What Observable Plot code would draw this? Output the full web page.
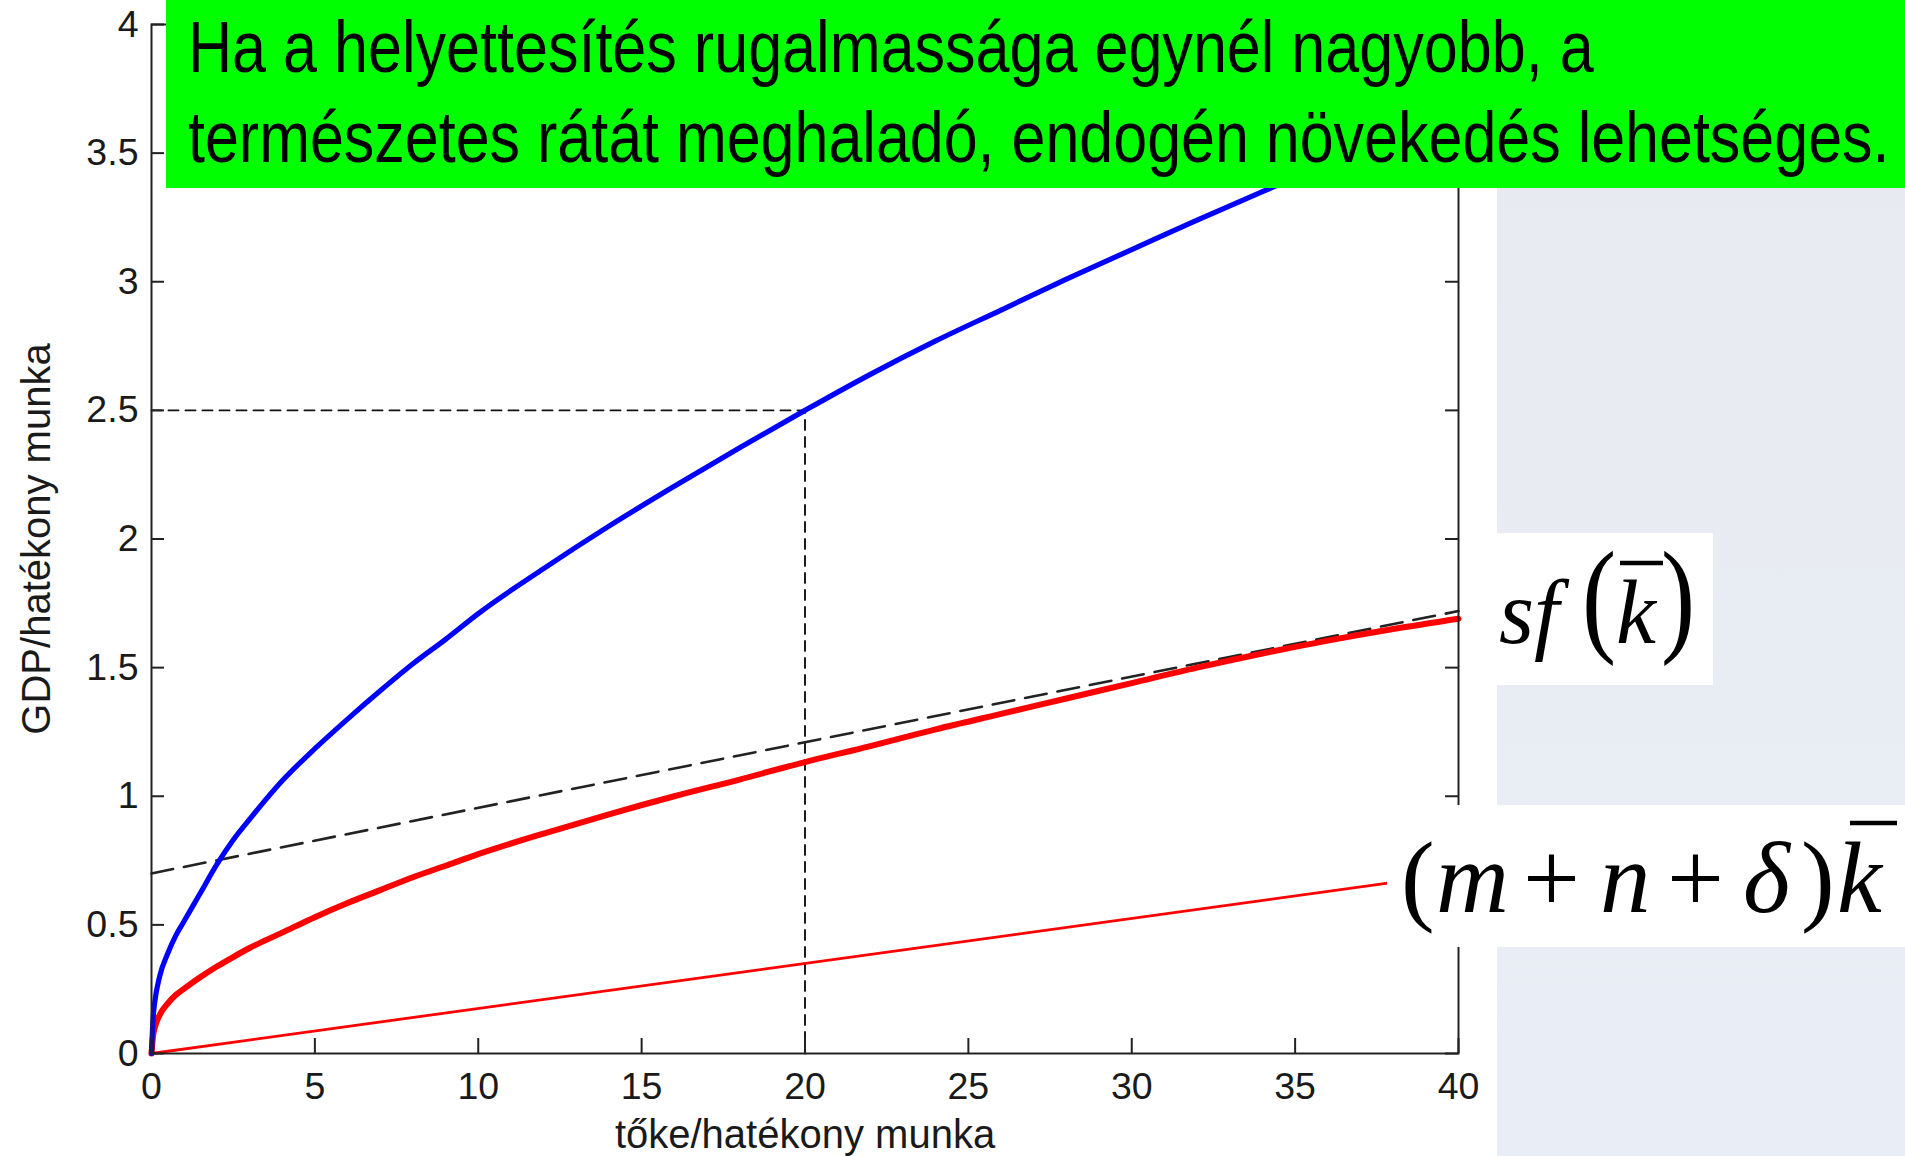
<!DOCTYPE html>
<html>
<head>
<meta charset="utf-8">
<script src="https://cdn.jsdelivr.net/npm/d3@7"></script>
<script src="https://cdn.jsdelivr.net/npm/@observablehq/plot@0.6"></script>
<style>
  html, body { margin: 0; padding: 0; background: #ffffff; }
  #wrap { position: relative; width: 1905px; height: 1156px; overflow: hidden; }
  #chart { position: absolute; left: 0; top: 0; }
  #overlay { position: absolute; left: 0; top: 0; pointer-events: none; }
</style>
</head>
<body>
<div id="wrap">
  <div id="chart"></div>
  <svg id="overlay" width="1905" height="1156" xmlns="http://www.w3.org/2000/svg">
    <defs>
      <linearGradient id="bg" x1="0" y1="0" x2="0" y2="1">
        <stop offset="0" stop-color="#e8eaf1"></stop>
        <stop offset="1" stop-color="#e9eef6"></stop>
      </linearGradient>
    </defs>
    <!-- slide background panel -->
    <rect x="1497" y="188" width="408" height="968" fill="url(#bg)"></rect>
    <!-- green headline box -->
    <rect x="166" y="0" width="1739" height="188" fill="#00ff00"></rect>
    <text id="head1" data-w="1406" transform="translate(188,71.7)" font-family="Liberation Sans, Arial, sans-serif" font-size="72" fill="#000">Ha a helyettesítés rugalmassága egynél nagyobb, a</text>
    <text id="head2" data-w="1702" transform="translate(188,161.7)" font-family="Liberation Sans, Arial, sans-serif" font-size="72" fill="#000">természetes rátát meghaladó, endogén növekedés lehetséges.</text>
    <!-- sf(k) label -->
    <rect x="1497" y="533" width="216" height="152" fill="#ffffff"></rect>
    <g font-family="Liberation Serif, Times New Roman, serif" fill="#000">
      <text x="1499" y="643" font-size="90" font-style="italic">sf</text>
      <text transform="translate(1582,639) scale(0.8,1)" font-size="128">(</text>
      <text x="1616" y="643" font-size="90" font-style="italic">k</text>
      <text transform="translate(1661,639) scale(0.8,1)" font-size="128">)</text>
    </g>
    <line x1="1620" x2="1663" y1="563" y2="563" stroke="#000" stroke-width="4.5"></line>
    <!-- (m+n+δ)k label -->
    <rect x="1387" y="805" width="518" height="142" fill="#ffffff"></rect>
    <g font-family="Liberation Serif, Times New Roman, serif" fill="#000" font-size="101">
      <text x="1401" y="912">(</text>
      <text x="1436" y="912" font-style="italic">m</text>
      <text x="1523" y="912">+</text>
      <text x="1600" y="912" font-style="italic">n</text>
      <text x="1667" y="912">+</text>
      <text x="1743" y="912" font-style="italic">δ</text>
      <text x="1801" y="912">)</text>
      <text x="1837" y="912" font-style="italic">k</text>
    </g>
    <line x1="1850" x2="1897" y1="823" y2="823" stroke="#000" stroke-width="4.5"></line>
  </svg>
</div>
<script>
// capital per effective labour (x) sample points
const kValues = [0, 0.05, 0.1, 0.25, 0.5, 0.75, 1, 1.5, 2, 2.5, 3, 4, 5, 6, 7, 8, 9, 10, 12, 14, 16, 18, 20, 22, 24, 26, 28, 30, 32, 34, 36, 38, 40];
// GDP per effective labour f(k) (blue)
const outputF = [0, 0.14, 0.20, 0.30, 0.39, 0.46, 0.515, 0.625, 0.735, 0.83, 0.91, 1.06, 1.185, 1.30, 1.41, 1.515, 1.61, 1.71, 1.885, 2.05, 2.205, 2.355, 2.50, 2.64, 2.77, 2.89, 3.01, 3.125, 3.24, 3.35, 3.46, 3.565, 3.67];
// saving curve s f(k) (thick red)
const savingSF = [0, 0.07, 0.10, 0.15, 0.195, 0.228, 0.252, 0.297, 0.338, 0.375, 0.41, 0.47, 0.53, 0.585, 0.635, 0.685, 0.73, 0.775, 0.855, 0.93, 1.00, 1.065, 1.133, 1.195, 1.26, 1.32, 1.38, 1.44, 1.50, 1.555, 1.605, 1.65, 1.69];
// break-even investment (m+n+δ)k (thin red)
const breakEvenK = [0, 40];
const breakEvenY = [0, 0.70];
// asymptote of s f(k) (black dashed)
const asymK = [0, 40];
const asymY = [0.70, 1.72];
// guide lines to the point (20, 2.5)
const guideK = [0, 20, 20];
const guideY = [2.5, 2.5, 0];
// axis ticks
const xTicks = [0, 5, 10, 15, 20, 25, 30, 35, 40];
const xTickLabels = ["0", "5", "10", "15", "20", "25", "30", "35", "40"];
const yTicks = [0, 0.5, 1, 1.5, 2, 2.5, 3, 3.5, 4];
const yTickLabels = ["0", "0.5", "1", "1.5", "2", "2.5", "3", "3.5", "4"];
const xTitle = "tőke/hatékony munka";
const yTitle = "GDP/hatékony munka";

const blueData = kValues.map((k, i) => ({k, v: outputF[i]}));
const redData = kValues.map((k, i) => ({k, v: savingSF[i]}));
const beData = breakEvenK.map((k, i) => ({k, v: breakEvenY[i]}));
const asData = asymK.map((k, i) => ({k, v: asymY[i]}));
const guideData = guideK.map((k, i) => ({k, v: guideY[i]}));

const W = 1905, H = 1156, mL = 151, mR = 447, mT = 24, mB = 103;
const plotW = W - mL - mR, plotH = H - mT - mB;
const axisColor = "#222";

const chart = Plot.plot({
  width: W, height: H,
  marginLeft: mL, marginRight: mR, marginTop: mT, marginBottom: mB,
  style: {fontFamily: "Liberation Sans, Arial, Helvetica, sans-serif", fontSize: "37.5px", color: "#1a1a1a", background: "transparent", overflow: "visible"},
  x: {domain: [0, 40]},
  y: {domain: [0, 4]},
  marks: [
    Plot.line(guideData, {x: "k", y: "v", stroke: "#111", strokeWidth: 1.9, strokeDasharray: "10,7"}),
    Plot.line(asData, {x: "k", y: "v", stroke: "#222", strokeWidth: 2.6, strokeDasharray: "22,11"}),
    Plot.line(beData, {x: "k", y: "v", stroke: "#ff0000", strokeWidth: 2.8}),
    Plot.line(redData, {x: "k", y: "v", stroke: "#ff0000", strokeWidth: 6, curve: "monotone-x"}),
    Plot.line(blueData, {x: "k", y: "v", stroke: "#0000ff", strokeWidth: 5.2, curve: "monotone-x"}),
    Plot.frame({stroke: axisColor, strokeWidth: 2}),
    Plot.tickY(yTicks, {y: d => d, insetRight: plotW - 13, stroke: axisColor, strokeWidth: 2}),
    Plot.tickY(yTicks, {y: d => d, insetLeft: plotW - 13, stroke: axisColor, strokeWidth: 2}),
    Plot.tickX(xTicks, {x: d => d, insetTop: plotH - 15, stroke: axisColor, strokeWidth: 2}),
    Plot.axisX({ticks: xTicks, tickFormat: d => xTickLabels[xTicks.indexOf(d)], tickSize: 0, tickPadding: 19,
      label: null}),
    Plot.axisX({ticks: [], tickSize: 0, label: xTitle, labelAnchor: "center", labelOffset: 94, labelArrow: false, fontSize: 40}),
    Plot.axisY({ticks: yTicks, tickFormat: d => yTickLabels[yTicks.indexOf(d)], tickSize: 0, tickPadding: 13,
      label: null}),
    Plot.axisY({ticks: [], tickSize: 0, label: yTitle, labelAnchor: "center", labelOffset: 130, labelArrow: false, fontSize: 40})
  ]
});
document.getElementById("chart").appendChild(chart);

// condense the headline lines horizontally to the narrow width of the original slide font
for (const id of ["head1", "head2"]) {
  const el = document.getElementById(id);
  const target = +el.getAttribute("data-w");
  const natural = el.getComputedTextLength();
  const sx = natural > 0 ? target / natural : 0.82;
  const base = el.getAttribute("transform");
  el.setAttribute("transform", base + " scale(" + sx.toFixed(4) + ",1)");
}
</script>
</body>
</html>
